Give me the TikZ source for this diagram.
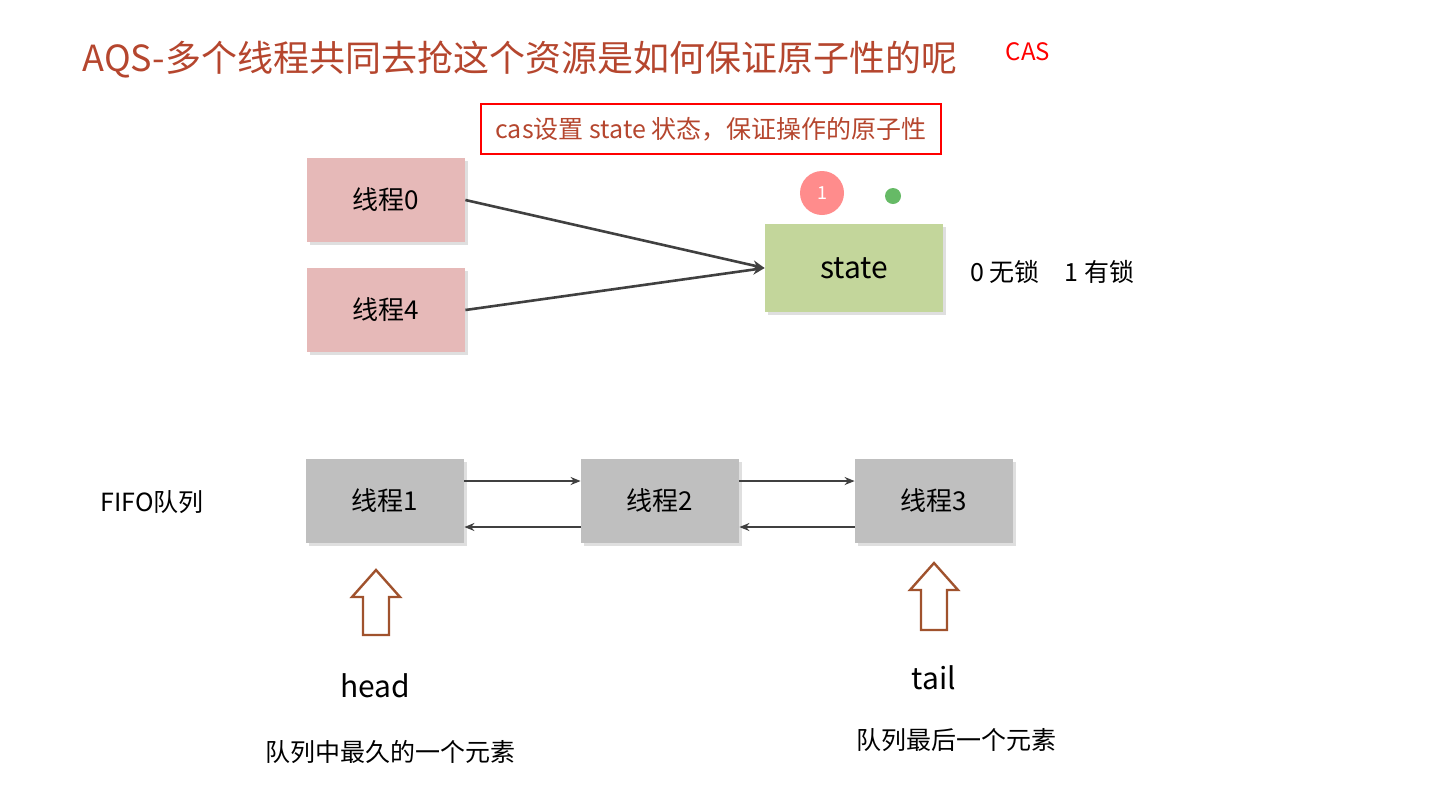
\documentclass[tikz,border=0pt]{standalone}
\usepackage{fontspec}
\setmainfont{Noto Sans CJK SC}
\usetikzlibrary{arrows.meta,shadows}
\definecolor{titlec}{HTML}{B5462E}
\definecolor{pinkc}{HTML}{E6B9B8}
\definecolor{greenc}{HTML}{C3D69B}
\definecolor{greyc}{HTML}{BFBFBF}
\definecolor{arrowc}{HTML}{404040}
\definecolor{brownc}{HTML}{A0522D}
\tikzset{
  px/.style={x=0.5pt,y=-0.5pt},
  box/.style={minimum width=79pt,minimum height=42pt,inner sep=0pt,font=\fontsize{13}{15}\selectfont,
    drop shadow={shadow xshift=1.5pt,shadow yshift=-1.5pt,fill=black!25}},
  link/.style={draw=arrowc,line width=1.3pt,-{Stealth[length=6pt,width=5pt]}},
  qlink/.style={draw=arrowc,line width=1pt,-{Stealth[length=5pt,width=4pt]}},
  hollow/.style={draw=brownc,line width=1.2pt,fill=white,line join=miter},
  lbl/.style={font=\fontsize{12.5}{14}\selectfont}
}
\begin{document}
\begin{tikzpicture}[px]
\useasboundingbox (0,0) rectangle (1451,789);
\node[text=titlec,font=\fontsize{18}{20}\selectfont] (title) at (520,60) {AQS-多个线程共同去抢这个资源是如何保证原子性的呢};
\node[text=red,font=\fontsize{12}{14}\selectfont] (cas) at (1028,52) {CAS};
\node[draw=red,line width=1.4pt,minimum width=230pt,minimum height=25pt,text=titlec,font=\fontsize{12.5}{14}\selectfont] (note) at (711,129) {cas设置 state 状态，保证操作的原子性};
\node[box,fill=pinkc] (t0) at (386,200) {线程0};
\node[box,fill=pinkc] (t4) at (386,310) {线程4};
\node[box,fill=greenc,minimum width=89pt,minimum height=44pt,font=\fontsize{15}{17}\selectfont] (st) at (854,268) {state};
\node[circle,fill=red!45,minimum size=22pt,inner sep=0pt,text=white,font=\fontsize{9}{10}\selectfont] (c1) at (822,193) {1};
\node[circle,fill=green!55!black!60,minimum size=8pt,inner sep=0pt] (c2) at (893,196) {};
\draw[link] (t0.east) -- (st.west);
\draw[link] (t4.east) -- (st.west);
\node[lbl,anchor=west] (lock) at (963,272) {0 无锁\quad 1 有锁};
\node[lbl] (fifo) at (152,502) {FIFO队列};
\node[box,fill=greyc] (q1) at (385,501) {线程1};
\node[box,fill=greyc] (q2) at (660,501) {线程2};
\node[box,fill=greyc] (q3) at (934,501) {线程3};
\draw[qlink] ([yshift=10pt]q1.east) -- ([yshift=10pt]q2.west);
\draw[qlink] ([yshift=-13pt]q2.west) -- ([yshift=-13pt]q1.east);
\draw[qlink] ([yshift=10pt]q2.east) -- ([yshift=10pt]q3.west);
\draw[qlink] ([yshift=-13pt]q3.west) -- ([yshift=-13pt]q2.east);
\draw[hollow] (376,570) -- (400,597) -- (389,597) -- (389,635) -- (363,635) -- (363,597) -- (352,597) -- cycle;
\draw[hollow] (934,563) -- (958,590) -- (947,590) -- (947,630) -- (921,630) -- (921,590) -- (910,590) -- cycle;
\node[font=\fontsize{15}{17}\selectfont] (head) at (375,686) {head};
\node[font=\fontsize{15}{17}\selectfont] (tail) at (934,678) {tail};
\node[lbl] (hd) at (390,752) {队列中最久的一个元素};
\node[lbl] (td) at (956,740) {队列最后一个元素};
\end{tikzpicture}
\end{document}
